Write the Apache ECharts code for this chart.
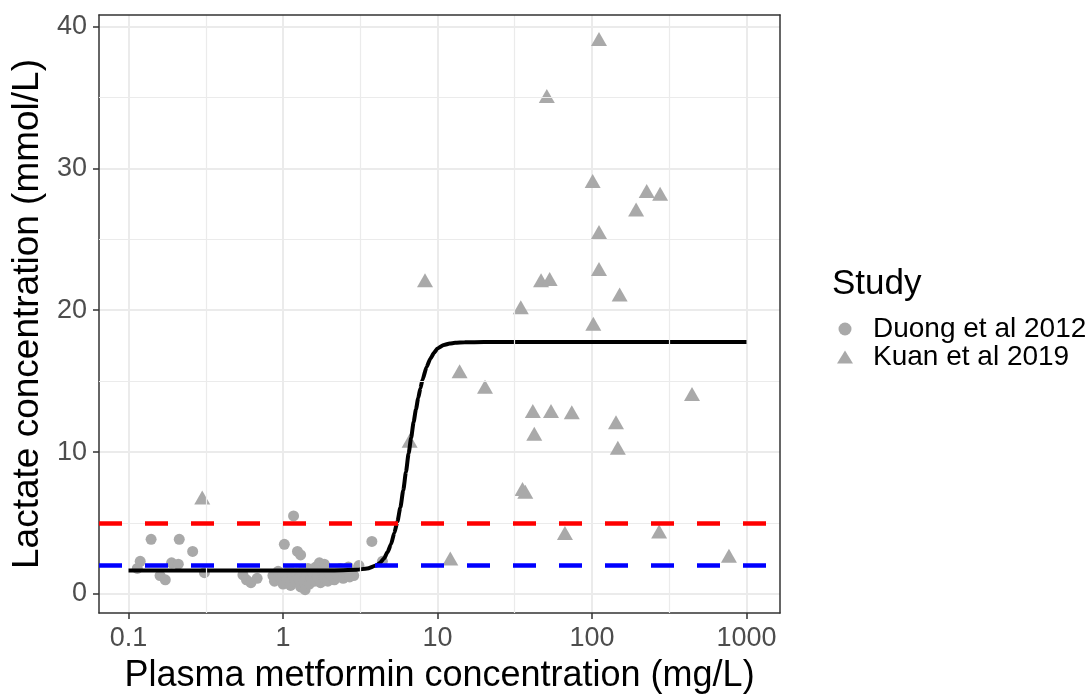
<!DOCTYPE html>
<html>
<head>
<meta charset="utf-8">
<script src="https://cdn.jsdelivr.net/npm/echarts@6/dist/echarts.min.js"></script>
<style>
html,body{margin:0;padding:0;background:#fff;}
#chart{width:1092px;height:699px;}
</style>
</head>
<body>
<div id="chart"></div>
<script>
// ---- Data ----
const duongX = [0.114,0.119,0.14,0.16,0.173,0.19,0.21,0.213,0.26,0.31,0.55,0.58,0.62,0.68,
  0.86,0.88,0.93,0.97,1.0,1.02,1.03,1.06,1.1,1.12,1.15,1.17,1.2,1.22,1.24,1.26,1.3,1.3,1.33,1.36,1.39,1.42,1.45,1.48,1.52,1.55,1.6,1.63,1.67,1.72,1.75,1.8,1.85,1.85,1.9,1.95,2.0,2.1,2.15,2.25,2.35,2.45,2.55,2.65,2.7,2.87,3.1,3.76,4.4];
const duongY = [1.8,2.3,3.85,1.3,1.0,2.2,2.1,3.85,3.0,1.5,1.35,1.0,0.8,1.1,
  1.3,0.9,1.6,1.1,0.7,3.5,1.4,1.0,1.7,0.6,1.2,5.5,0.9,1.5,3.0,1.1,2.75,0.5,1.6,0.9,0.3,1.3,1.8,0.7,1.1,1.5,0.9,1.9,1.2,2.2,0.8,1.5,1.1,2.1,1.8,0.9,1.4,1.7,1.0,1.3,1.8,1.1,1.5,1.9,1.2,1.3,2.0,3.7,2.3];
const kuanX = [0.30,111,51,101,226,276,193,111,111,8.3,46.8,53.2,151,34.6,102,13.9,20.3,444,41.4,54.3,74,143,42.3,147,6.6,35.5,37,66.8,272,12.1,770];
const kuanY = [6.8,39.1,35.1,29.1,28.4,28.2,27.1,25.5,22.9,22.1,22.1,22.2,21.1,20.2,19.05,15.7,14.6,14.1,12.9,12.9,12.8,12.1,11.3,10.3,10.8,7.4,7.2,4.3,4.4,2.5,2.7];
const fitX = [0.1,0.3,1,2,3,3.5,4,4.25,4.5,4.75,5,5.25,5.5,5.75,6,6.25,6.5,6.75,7,7.25,7.5,7.75,8,8.5,9,9.5,10,11,12,13,15,20,50,100,300,1000];
const fitY = [1.65,1.65,1.65,1.66,1.7,1.8,2.0,2.2,2.5,2.95,3.5,4.3,5.1,6.1,7.3,8.6,9.9,11.0,12.1,13.0,13.8,14.5,15.1,16.0,16.6,17.0,17.3,17.55,17.65,17.7,17.74,17.75,17.75,17.75,17.75,17.75];
const thresholdUpper = 5;   // red dashed
const thresholdLower = 2;   // blue dashed
const xTicks = [0.1,1,10,100,1000];
const yTicks = [0,10,20,30,40];
const xMinor = [0.316,3.16,31.6,316];
const yMinor = [5,15,25,35];
const seriesNames = ['Duong et al 2012','Kuan et al 2019'];
const legendTitle = 'Study';
const xTitle = 'Plasma metformin concentration (mg/L)';
const yTitle = 'Lactate concentration (mmol/L)';

// ---- Chart ----
const FONT = '"Liberation Sans", Arial, Helvetica, sans-serif';
const GRAY = '#A9A9A9';
const XMIN = 0.0644, XMAX = 1648, YMIN = -1.34, YMAX = 40.8;
const zip = (a, b) => a.map((v, i) => [v, b[i]]);
const fmt = v => String(+(+v).toPrecision(3));

const chart = echarts.init(document.getElementById('chart'), null, {renderer: 'canvas'});
const option = {
  animation: false,
  backgroundColor: '#ffffff',
  textStyle: {fontFamily: FONT},
  title: {
    text: legendTitle, left: 832, top: 267, padding: 0,
    textStyle: {fontFamily: FONT, fontSize: 35, fontWeight: 'normal', color: '#000'}
  },
  legend: {
    orient: 'vertical', left: 837, top: 315, padding: 0,
    itemWidth: 16, itemHeight: 13, itemGap: 0,
    data: [{name: seriesNames[0], icon: 'circle'}, {name: seriesNames[1], icon: 'triangle'}],
    textStyle: {fontFamily: FONT, fontSize: 28, color: '#000', lineHeight: 21, padding: [0, 0, 0, 15]}
  },
  grid: {left: 99, right: 312, top: 15, bottom: 86, show: false},
  xAxis: [{
    type: 'log', logBase: 10, min: XMIN, max: XMAX,
    name: xTitle, nameLocation: 'middle', nameGap: 45,
    nameTextStyle: {fontFamily: FONT, fontSize: 36, color: '#000'},
    axisLine: {show: true, onZero: false, lineStyle: {color: '#333333', width: 1.5}},
    axisTick: {show: true, length: 6, customValues: xTicks, lineStyle: {color: '#333333', width: 1.5}},
    axisLabel: {customValues: xTicks, margin: 12, fontFamily: FONT, fontSize: 27, color: '#4D4D4D',
      formatter: v => fmt(v)},
    splitLine: {show: true, lineStyle: {color: '#EBEBEB', width: 2}},
    minorSplitLine: {show: false}
  }, {
    type: 'log', logBase: 10, min: XMIN, max: XMAX, position: 'top', z: 10,
    axisLine: {show: true, onZero: false, lineStyle: {color: '#333333', width: 1.5}},
    axisTick: {show: false}, axisLabel: {show: false}, splitLine: {show: false}
  }],
  yAxis: [{
    type: 'value', min: YMIN, max: YMAX,
    name: yTitle, nameLocation: 'middle', nameGap: 37,
    nameTextStyle: {fontFamily: FONT, fontSize: 37, color: '#000'},
    axisLine: {show: true, onZero: false, lineStyle: {color: '#333333', width: 1.5}},
    axisTick: {show: true, length: 6, customValues: yTicks, lineStyle: {color: '#333333', width: 1.5}},
    axisLabel: {customValues: yTicks, margin: 12, fontFamily: FONT, fontSize: 27, color: '#4D4D4D',
      formatter: v => fmt(v)},
    splitLine: {show: true, lineStyle: {color: '#EBEBEB', width: 2}}
  }, {
    type: 'value', min: YMIN, max: YMAX, position: 'right', z: 10,
    axisLine: {show: true, onZero: false, lineStyle: {color: '#333333', width: 1.5}},
    axisTick: {show: false}, axisLabel: {show: false}, splitLine: {show: false}
  }],
  series: [
    {
      name: 'minorGrid', type: 'line', data: [], z: 1, silent: true,
      markLine: {
        silent: true, symbol: 'none', label: {show: false}, animation: false,
        lineStyle: {color: '#EBEBEB', width: 1.2, type: 'solid'},
        data: xMinor.map(v => ({xAxis: v})).concat(yMinor.map(v => ({yAxis: v})))
      }
    },
    {
      name: seriesNames[0], type: 'scatter', data: zip(duongX, duongY),
      symbol: 'circle', symbolSize: 11, itemStyle: {color: GRAY, opacity: 1}, z: 2
    },
    {
      name: seriesNames[1], type: 'scatter', data: zip(kuanX, kuanY),
      symbol: 'triangle', symbolSize: [16, 14], itemStyle: {color: GRAY, opacity: 1}, z: 2
    },
    {
      name: 'fit', type: 'line', data: zip(fitX, fitY), showSymbol: false, symbol: 'none',
      smooth: 0.2, smoothMonotone: 'x',
      lineStyle: {color: '#000000', width: 4}, z: 3, silent: true
    },
    {
      name: 'thresholds', type: 'line', data: [], z: 4, silent: true,
      markLine: {
        silent: true, symbol: 'none', label: {show: false}, animation: false,
        data: [
          {yAxis: thresholdUpper, lineStyle: {color: '#FF0000', width: 4.5, type: [23, 23]}},
          {yAxis: thresholdLower, lineStyle: {color: '#0000FF', width: 4.5, type: [23, 23]}}
        ]
      }
    }
  ]
};
chart.setOption(option);
</script>
</body>
</html>
